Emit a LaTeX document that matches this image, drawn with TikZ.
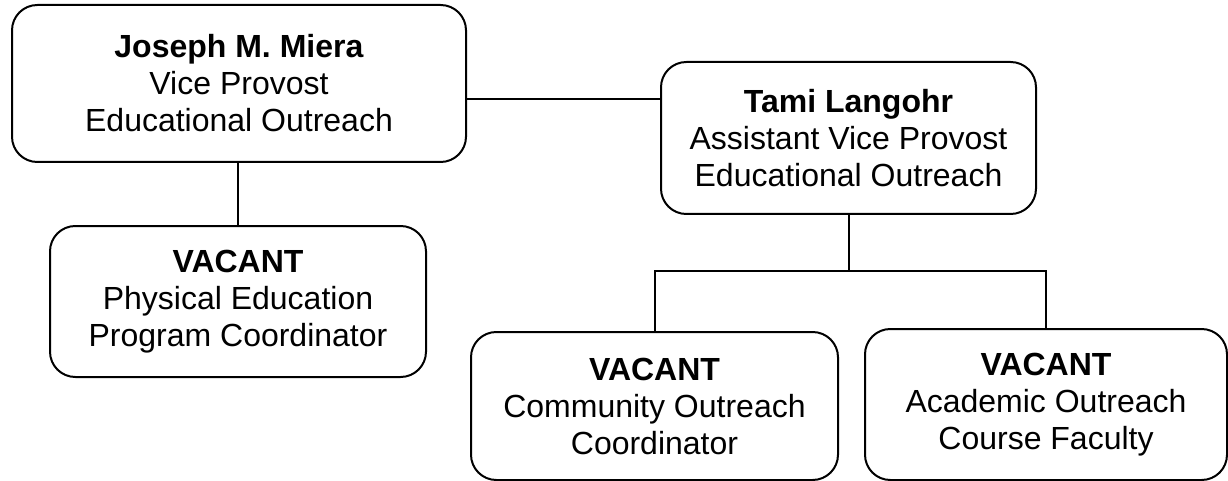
\documentclass[tikz,border=0pt]{standalone}
\usepackage{fontspec}
\setmainfont{Liberation Sans}
\begin{document}
\begin{tikzpicture}[x=0.75pt,y=-0.75pt,
  box/.style={draw=black, line width=1.5pt, rounded corners=19pt, fill=white,
    align=center, inner sep=0pt, font=\fontsize{24}{27.75}\selectfont},
  conn/.style={draw=black, line width=1.5pt}]
\useasboundingbox (0,0) rectangle (1228,481);
\node[box, minimum width=340.5pt, minimum height=117.75pt] (A) at (239,83.5)
  {\textbf{Joseph M. Miera}\\Vice Provost\\Educational Outreach};
\node[box, minimum width=281.25pt, minimum height=114pt] (B) at (848.5,138)
  {\textbf{Tami Langohr}\\Assistant Vice Provost\\Educational Outreach};
\node[box, minimum width=282pt, minimum height=113.25pt] (C) at (238,301.5)
  {\textbf{VACANT}\\Physical Education\\Program Coordinator};
\node[box, minimum width=275.25pt, minimum height=111pt] (D) at (654.5,406)
  {\textbf{VACANT}\\Community Outreach\\Coordinator};
\node[box, minimum width=271.5pt, minimum height=113.25pt] (E) at (1046,404.5)
  {\textbf{VACANT}\\Academic Outreach\\Course Faculty};
\coordinate (h) at (0,99);
\coordinate (bus) at (0,271);
\draw[conn] (A.east |- h) -- (B.west |- h);
\draw[conn] (C.north |- A.south) -- (C.north);
\draw[conn] (B.south) -- (B.south |- bus);
\draw[conn] (D.north) -- (D.north |- bus) -- (E.north |- bus) -- (E.north);
\end{tikzpicture}
\end{document}
